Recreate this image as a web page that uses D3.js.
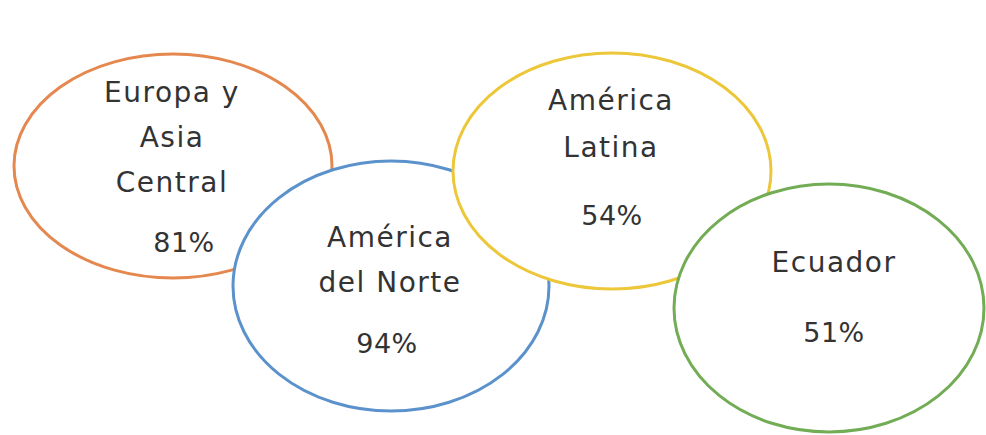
<!DOCTYPE html>
<html>
<head>
<meta charset="utf-8">
<script src="https://cdn.jsdelivr.net/npm/d3@7"></script>
<style>
  html, body { margin: 0; padding: 0; background: #ffffff; }
  svg { display: block; }
</style>
</head>
<body>
<div id="chart"></div>
<script>
// ---- data ----
const regions = ["Europa y Asia Central", "América del Norte", "América Latina", "Ecuador"];
const regionLines = [["Europa y", "Asia", "Central"], ["América", "del Norte"], ["América", "Latina"], ["Ecuador"]];
const percentages = [81, 94, 54, 51];

// ---- layout / style (not data) ----
const colors = ["#E5884F", "#5B92CC", "#EDC73A", "#72AC55"];
const shapes = [
  { cx: 173, cy: 166, rx: 159, ry: 112 },
  { cx: 391, cy: 286, rx: 158, ry: 125 },
  { cx: 612, cy: 171, rx: 159, ry: 118 },
  { cx: 829, cy: 308, rx: 155, ry: 124 }
];
const labelLayout = [
  { x: 172, lines: [102, 147, 192], pctX: 184, pctY: 252 },
  { x: 390, lines: [247, 292], pctX: 387, pctY: 353 },
  { x: 611, lines: [110, 157], pctX: 612, pctY: 225 },
  { x: 834, lines: [272], pctX: 834, pctY: 342 }
];

const W = 986, H = 435;
const svg = d3.select("#chart").append("svg").attr("width", W).attr("height", H);

const data = regions.map((r, i) => ({
  name: r, lines: regionLines[i], pct: percentages[i],
  color: colors[i], shape: shapes[i], lab: labelLayout[i]
}));

const fmt = d3.format(".0%");

const g = svg.selectAll("g.bubble").data(data).join("g").attr("class", "bubble");

g.append("ellipse")
  .attr("cx", d => d.shape.cx).attr("cy", d => d.shape.cy)
  .attr("rx", d => d.shape.rx).attr("ry", d => d.shape.ry)
  .attr("fill", "#ffffff")
  .attr("stroke", d => d.color)
  .attr("stroke-width", 3);

const fontFamily = "'DejaVu Sans', sans-serif";

g.each(function(d) {
  const sel = d3.select(this);
  d.lines.forEach((t, j) => {
    sel.append("text")
      .attr("x", d.lab.x).attr("y", d.lab.lines[j])
      .attr("text-anchor", "middle")
      .attr("font-family", fontFamily)
      .attr("font-size", 28)
      .attr("letter-spacing", "1.5px")
      .attr("fill", "#333333")
      .text(t);
  });
  sel.append("text")
    .attr("x", d.lab.pctX).attr("y", d.lab.pctY)
    .attr("text-anchor", "middle")
    .attr("font-family", fontFamily)
    .attr("font-size", 27)
    .attr("letter-spacing", "0.5px")
    .attr("fill", "#333333")
    .text(fmt(d.pct / 100));
});
</script>
</body>
</html>
